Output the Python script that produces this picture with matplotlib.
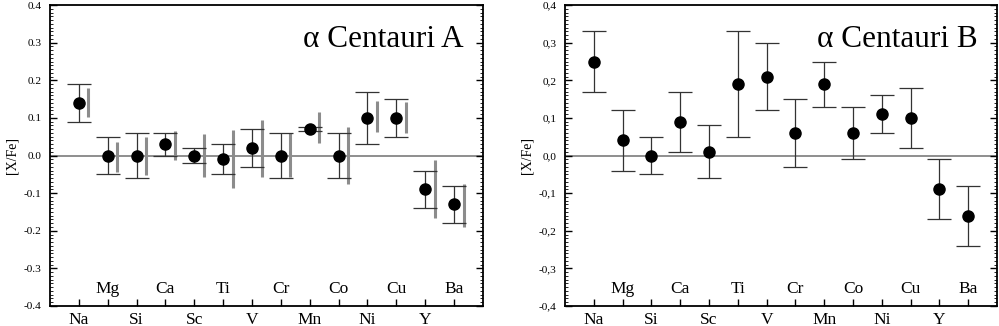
import matplotlib
matplotlib.use('Agg')
import matplotlib.pyplot as plt
from matplotlib.ticker import MultipleLocator, FuncFormatter

plt.rcParams['font.family'] = ['Liberation Serif', 'DejaVu Serif']

# elements (order along the x axis)
elements = ['Na', 'Mg', 'Si', 'Ca', 'Sc', 'Ti', 'V', 'Cr', 'Mn', 'Co', 'Ni', 'Cu', 'Y', 'Ba']

# alpha Cen A : value, lower and upper end of the error bar
a_val = [0.14, 0.00, 0.00, 0.03, 0.00, -0.01, 0.02, 0.00, 0.07, 0.00, 0.10, 0.10, -0.09, -0.13]
a_lo = [0.09, -0.05, -0.06, 0.00, -0.02, -0.05, -0.03, -0.06, 0.065, -0.06, 0.03, 0.05, -0.14, -0.18]
a_hi = [0.19, 0.05, 0.06, 0.06, 0.02, 0.03, 0.07, 0.06, 0.075, 0.06, 0.17, 0.15, -0.04, -0.08]

# alpha Cen A : comparison ranges (grey bars)
cmp_lo = [0.102, -0.043, -0.053, -0.012, -0.058, -0.085, -0.058, -0.057, 0.033, -0.076, 0.062, 0.061, -0.167, -0.191]
cmp_hi = [0.179, 0.035, 0.048, 0.066, 0.058, 0.067, 0.094, 0.059, 0.115, 0.076, 0.146, 0.143, -0.013, -0.075]

# alpha Cen B
b_val = [0.25, 0.04, 0.00, 0.09, 0.01, 0.19, 0.21, 0.06, 0.19, 0.06, 0.11, 0.10, -0.09, -0.16]
b_lo = [0.17, -0.04, -0.05, 0.01, -0.06, 0.05, 0.12, -0.03, 0.13, -0.01, 0.06, 0.02, -0.17, -0.24]
b_hi = [0.33, 0.12, 0.05, 0.17, 0.08, 0.33, 0.30, 0.15, 0.25, 0.13, 0.16, 0.18, -0.01, -0.08]


def draw_panel(ax, val, lo, hi, title, comma=False, grey=None):
    x = list(range(1, len(elements) + 1))
    yerr = [[v - l for v, l in zip(val, lo)], [h - v for v, h in zip(val, hi)]]
    ax.axhline(0, color='#707070', lw=1.1, zorder=1)
    if grey is not None:
        glo, ghi = grey
        ax.vlines([xi + 0.33 for xi in x], glo, ghi, color='#8c8c8c', lw=2.2, zorder=2)
    ax.errorbar(x, val, yerr=yerr, fmt='none', ecolor='#333333', elinewidth=0.9,
                capsize=8.5, capthick=0.9, zorder=3)
    ax.plot(x, val, 'o', color='black', ms=8, zorder=4)

    ax.set_xlim(0, 15)
    ax.set_ylim(-0.4, 0.4)
    ax.set_xticks(x)
    ax.set_xticklabels([e if i % 2 == 0 else '' for i, e in enumerate(elements)], fontsize=12.5)
    for i, e in enumerate(elements):
        if i % 2 == 1:
            ax.text(x[i], -0.366, e, ha='center', va='baseline', fontsize=12.5)

    ax.yaxis.set_major_locator(MultipleLocator(0.1))
    ax.yaxis.set_minor_locator(MultipleLocator(0.01))
    if comma:
        ax.yaxis.set_major_formatter(FuncFormatter(lambda v, p: ('%.1f' % v).replace('.', ',')))
    else:
        ax.yaxis.set_major_formatter(FuncFormatter(lambda v, p: '%.1f' % v))
    ax.tick_params(axis='y', which='major', direction='in', length=5, width=1,
                   left=True, right=True, labelsize=8.2, pad=6)
    ax.tick_params(axis='y', which='minor', direction='in', length=2.5, width=0.6,
                   left=True, right=True)
    ax.tick_params(axis='x', direction='in', length=5, width=1, top=False, pad=4)
    for s in ax.spines.values():
        s.set_linewidth(1.3)
    ax.set_ylabel('[X/Fe]', fontsize=10, labelpad=4)
    ax.text(0.955, 0.935, title, transform=ax.transAxes, ha='right', va='top', fontsize=22.5)


fig = plt.figure(figsize=(9.99, 3.26), dpi=100)
ax1 = fig.add_axes([0.050, 0.0614, 0.4334, 0.923])
ax2 = fig.add_axes([0.5656, 0.0614, 0.4324, 0.923])

draw_panel(ax1, a_val, a_lo, a_hi, 'α Centauri A', grey=(cmp_lo, cmp_hi))
draw_panel(ax2, b_val, b_lo, b_hi, 'α Centauri B', comma=True)

fig.savefig('out.png', dpi=100)
